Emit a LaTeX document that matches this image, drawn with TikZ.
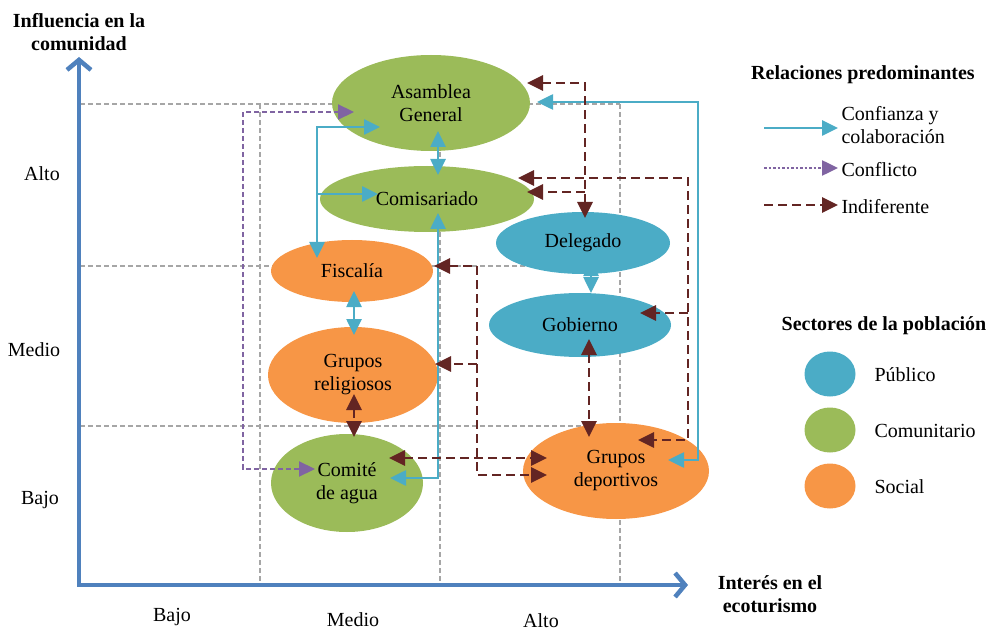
\documentclass[tikz,border=0pt]{standalone}
\usepackage{fontspec}
\setmainfont{Liberation Serif}
\usetikzlibrary{shapes.geometric,arrows.meta}
\definecolor{verde}{HTML}{9BBB59}
\definecolor{naranja}{HTML}{F79646}
\definecolor{azul}{HTML}{4BACC6}
\definecolor{morado}{HTML}{8064A2}
\definecolor{vino}{HTML}{632523}
\definecolor{azuleje}{HTML}{4F81BD}
\definecolor{gris}{HTML}{A6A6A6}
\begin{document}
\begin{tikzpicture}[x=1pt,y=-1pt,
    font=\fontsize{20}{23}\selectfont,
    >={Triangle[length=16pt,width=15pt]},
    actor/.style={ellipse,inner sep=0pt,align=center},
    publico/.style={actor,fill=azul},
    comunitario/.style={actor,fill=verde},
    social/.style={actor,fill=naranja},
    confianza/.style={draw=azul,line width=2.6pt},
    conflicto/.style={draw=morado,line width=2.2pt,dash pattern=on 5pt off 3pt},
    indiferente/.style={draw=vino,line width=2.8pt,dash pattern=on 9pt off 5pt},
    rejilla/.style={draw=gris,line width=1.3pt,dash pattern=on 5pt off 3pt},
    eje/.style={draw=azuleje,line width=4.5pt},
    titulo/.style={font=\fontsize{20}{23}\selectfont\bfseries,align=center}]
    \useasboundingbox (0,0) rectangle (991,631);

    % rejilla
    \draw[rejilla] (80,104) -- (620,104);
    \draw[rejilla] (80,266) -- (620,266);
    \draw[rejilla] (80,426) -- (620,426);
    \foreach \x in {260,440,620} \draw[rejilla] (\x,104) -- (\x,585);

    % ejes
    \coordinate (ytop) at (79,57);
    \coordinate (origen) at (79,585);
    \coordinate (xfin) at (688,585);
    \draw[eje,{Straight Barb[length=10pt,width=24pt]}-{Straight Barb[length=10pt,width=24pt]}] (ytop) -- (origen) -- (xfin);
    \node[titulo] (tinfluencia) at (79,32) {Influencia en la\\comunidad};
    \node[titulo] (tinteres) at (770,594) {Interés en el\\ecoturismo};
    \node (yalto) at (42,174) {Alto};
    \node (ymedio) at (34,350) {Medio};
    \node (ybajo) at (40,500) {Bajo};
    \node (xbajo) at (172,617) {Bajo};
    \node (xmedio) at (353,620) {Medio};
    \node (xalto) at (541,621) {Alto};

    % actores
    \node[comunitario,minimum width=198pt,minimum height=96pt] (asamblea) at (431,103) {Asamblea\\General};
    \node[comunitario,minimum width=214pt,minimum height=66pt] (comisariado) at (427,199) {Comisariado};
    \node[publico,minimum width=174pt,minimum height=62pt] (delegado) at (583,243) {Delegado};
    \node[social,minimum width=162pt,minimum height=62pt] (fiscalia) at (352,271) {Fiscalía};
    \node[publico,minimum width=182pt,minimum height=64pt] (gobierno) at (580,325) {Gobierno};
    \node[social,minimum width=170pt,minimum height=96pt] (religiosos) at (353,375) {Grupos\\religiosos};
    \node[comunitario,minimum width=152pt,minimum height=98pt] (comite) at (347,483) {Comité\\de agua};
    \node[social,minimum width=186pt,minimum height=96pt] (deportivos) at (616,471) {Grupos\\deportivos};

    % confianza y colaboracion
    \draw[confianza,<->] ([shift={(106,-1)}]asamblea.center) -- (698,102) -- (698,460) -- ([shift={(52,-11)}]deportivos.center);
    \draw[confianza,<->] ([shift={(-35,-13)}]fiscalia.center) -- (317,127) -- ([shift={(-51,24)}]asamblea.center);
    \coordinate (rama) at (317,194);
    \draw[confianza,->] (rama) -- ([shift={(-49,-5)}]comisariado.center);
    \draw[confianza,<->] ([shift={(7,28)}]asamblea.center) -- ([shift={(11,-24)}]comisariado.center);
    \draw[confianza,<->] ([shift={(11,14)}]comisariado.center) -- (438,478) -- ([shift={(43,-5)}]comite.center);
    \draw[confianza,<->] ([shift={(2,20)}]fiscalia.center) -- ([shift={(1,-40)}]religiosos.center);
    \draw[confianza,<->] ([shift={(8,17)}]delegado.center) -- ([shift={(11,-32)}]gobierno.center);

    % conflicto
    \draw[conflicto,<->] ([shift={(-77,9)}]asamblea.center) -- (243,112) -- (243,469) -- ([shift={(-32,-14)}]comite.center);

    % indiferente
    \draw[indiferente,<->] ([shift={(96,-20)}]asamblea.center) -- (585,83) -- ([shift={(2,-25)}]delegado.center);
    \coordinate (ramaA) at (585,192);
    \draw[indiferente,->] (ramaA) -- ([shift={(100,-7)}]comisariado.center);
    \draw[indiferente,<->] ([shift={(91,-21)}]comisariado.center) -- (688,178) -- (688,440) -- ([shift={(22,-31)}]deportivos.center);
    \coordinate (ramaB) at (688,313);
    \draw[indiferente,->] (ramaB) -- ([shift={(60,-12)}]gobierno.center);
    \draw[indiferente,<->] ([shift={(82,-5)}]fiscalia.center) -- (477,266) -- (477,475) -- ([shift={(-69,4)}]deportivos.center);
    \coordinate (ramaC) at (477,364);
    \draw[indiferente,->] (ramaC) -- ([shift={(82,-11)}]religiosos.center);
    \draw[indiferente,<->] ([shift={(42,-25)}]comite.center) -- ([shift={(-69,-13)}]deportivos.center);
    \draw[indiferente,<->] ([shift={(1,19)}]religiosos.center) -- ([shift={(7,-46)}]comite.center);
    \draw[indiferente,<->] ([shift={(9,14)}]gobierno.center) -- ([shift={(-27,-34)}]deportivos.center);

    % leyenda relaciones
    \node[titulo] (trelaciones) at (863,75) {Relaciones predominantes};
    \node[anchor=west,align=left] (lconfianza) at (838,125) {Confianza y\\colaboración};
    \node[anchor=west] (lconflicto) at (838,170) {Conflicto};
    \node[anchor=west] (lindiferente) at (838,207) {Indiferente};
    \coordinate (iconf) at (764,128);
    \coordinate (icfl) at (764,168);
    \coordinate (iind) at (764,205);
    \draw[confianza,->] (iconf) -- (iconf -| lconfianza.west);
    \draw[draw=morado,line width=2.5pt,dash pattern=on 2.5pt off 2pt,->] (icfl) -- (icfl -| lconflicto.west);
    \draw[indiferente,->] (iind) -- (iind -| lindiferente.west);

    % leyenda sectores
    \node[titulo] (tsectores) at (884,326) {Sectores de la población};
    \node[publico,minimum width=51pt,minimum height=45pt] (spublico) at (830,374) {};
    \node[comunitario,minimum width=51pt,minimum height=45pt] (scomunitario) at (830,430) {};
    \node[social,minimum width=51pt,minimum height=45pt] (ssocial) at (830,486) {};
    \node[anchor=west] (tpublico) at (871,375) {Público};
    \node[anchor=west] (tcomunitario) at (871,431) {Comunitario};
    \node[anchor=west] (tsocial) at (871,487) {Social};
\end{tikzpicture}
\end{document}
